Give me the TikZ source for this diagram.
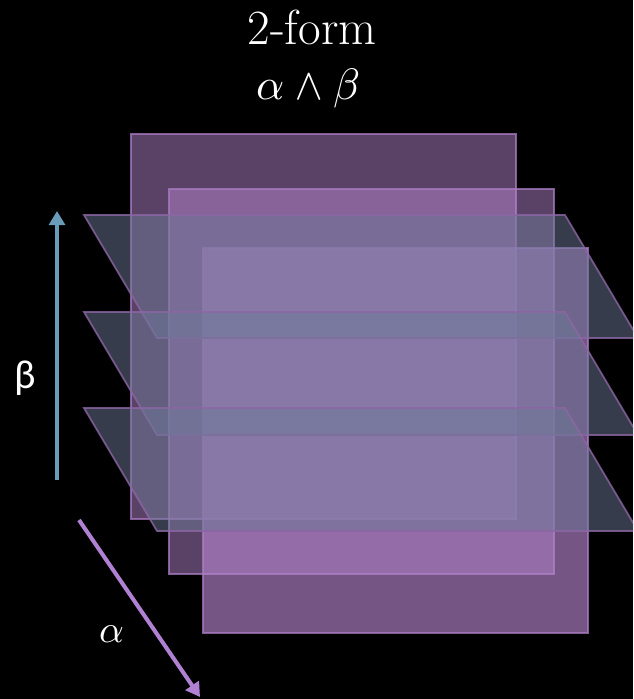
\documentclass[tikz,border=0pt]{standalone}
\usepackage{amsmath}
\usepackage{unicode-math}
\usepackage{tikz}
\usetikzlibrary{arrows.meta}
\newfontfamily\labelfont{Carlito}

\definecolor{sheetpurple}{RGB}{180,132,204}
\definecolor{sheetedge}{RGB}{172,126,198}
\definecolor{layerblue}{RGB}{108,120,150}
\definecolor{layeredge}{RGB}{140,102,164}
\definecolor{betablue}{RGB}{104,156,184}
\definecolor{alphapurple}{RGB}{176,128,210}

\tikzset{
  sheet/.style={fill=sheetpurple,draw=sheetedge,draw opacity=0.75,line width=1pt},
  layer/.style={fill=layerblue,fill opacity=0.5,draw=layeredge,draw opacity=0.8,line width=1pt},
  vecarrow/.style={line width=2.3pt,-{Triangle[width=9pt,length=8pt]}},
  bigtext/.style={white,font=\fontsize{28}{34}\selectfont,anchor=base}
}

\begin{document}
\begin{tikzpicture}[x=0.02cm,y=-0.02cm]
  % Background
  \fill[black] (0,0) rectangle (633,699);
  \clip (0,0) rectangle (633,699);

  % Draw the vertical sheets
  \foreach \x/\y/\op in {131/134/0.5,169/189/0.5,203/248/0.65} {
    \draw[sheet,fill opacity=\op] (\x,\y) rectangle ++(385,385);
  }

  % Draw the horizontal layers
  \foreach \y in {215,312,408} {
    \draw[layer] (84,\y) -- (565,\y) -- (638,\y+123) -- (157,\y+123) -- cycle;
  }

  % Direction arrows
  \coordinate (beta tail) at (57,480);
  \coordinate (beta head) at (57,211);
  \draw[vecarrow,betablue] (beta tail) -- (beta head);

  \coordinate (alpha tail) at (79,520);
  \coordinate (alpha head) at (200,697);
  \draw[vecarrow,alphapurple] (alpha tail) -- (alpha head);

  % Labels
  \node[white,font=\labelfont\fontsize{23}{27}\selectfont] (beta label) at (25,378) {β};
  \node[white,font=\fontsize{22}{26}\selectfont] (alpha label) at (112,634) {$\alpha$};

  % Title
  \node[bigtext] (title) at (312,45) {2-form};
  \node[bigtext,font=\fontsize{25}{30}\selectfont] (product) at (308,100) {$\alpha\wedge\beta$};

\end{tikzpicture}
\end{document}
